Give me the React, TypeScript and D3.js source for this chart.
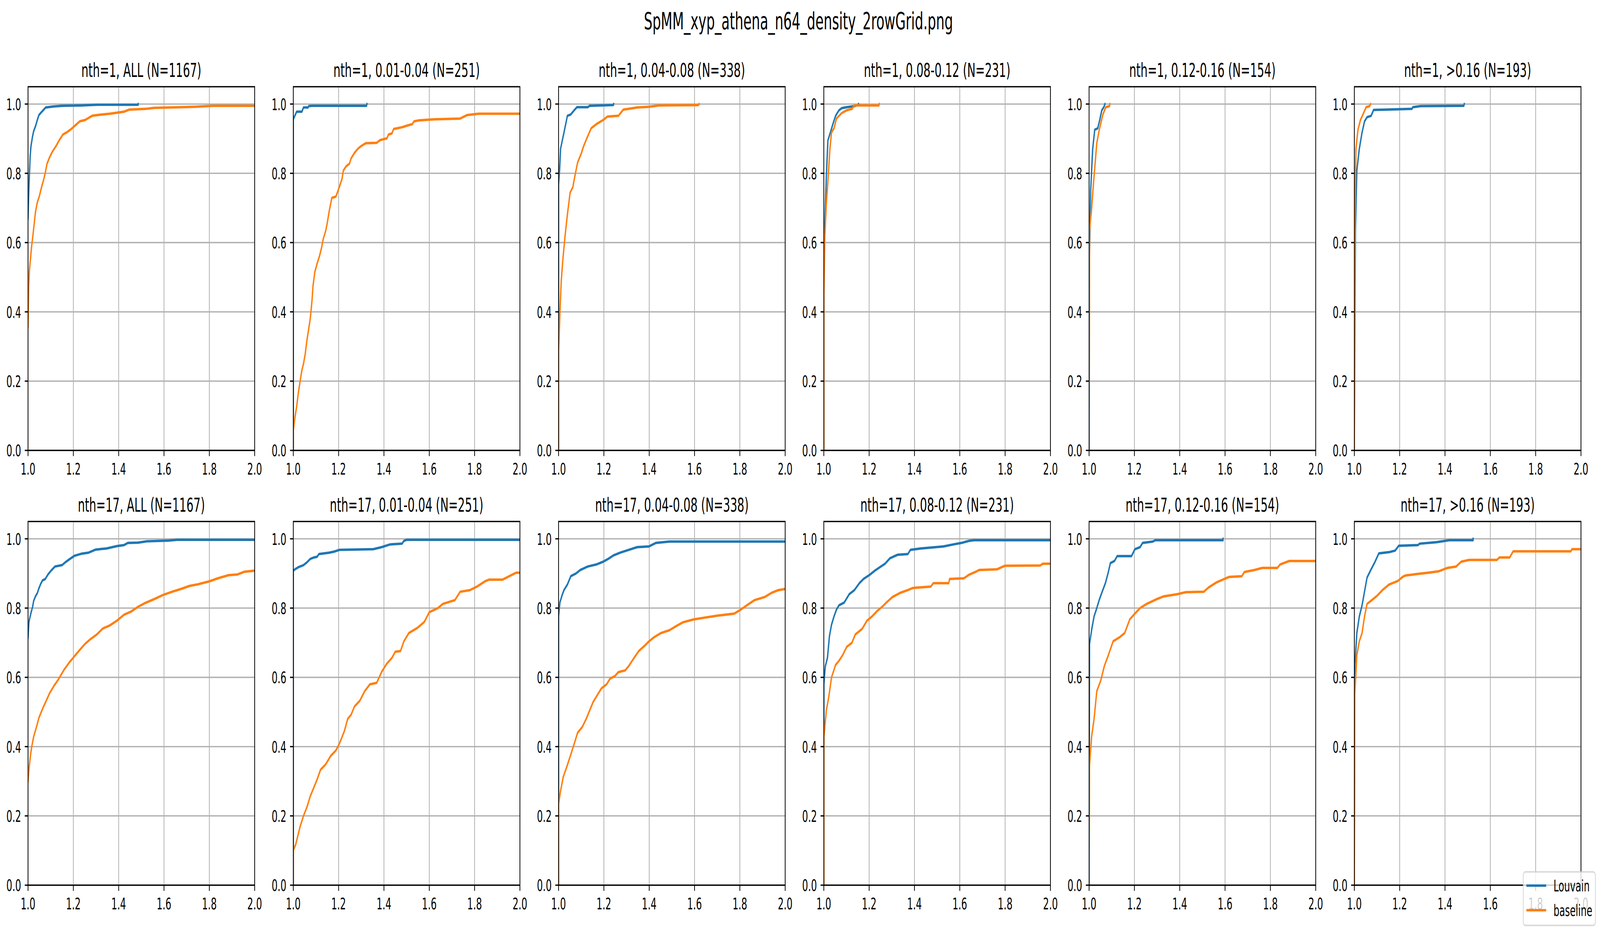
import React from 'react';
import * as d3 from 'd3';

type Pt = [number, number];

const SUPTITLE = 'SpMM_xyp_athena_n64_density_2rowGrid.png';
const threadCounts = [1, 17];
const densityBins = ['ALL', '0.01-0.04', '0.04-0.08', '0.08-0.12', '0.12-0.16', '>0.16'];
const binCounts = [1167, 251, 338, 231, 154, 193];
const seriesNames = ['Louvain', 'baseline'];
const seriesColors = ['#1f77b4', '#ff7f0e'];
const xTicks = [1.0, 1.2, 1.4, 1.6, 1.8, 2.0];
const yTicks = [0.0, 0.2, 0.4, 0.6, 0.8, 1.0];

// nth=1 (cumulative fraction vs. ratio)
const louvainN1All: Pt[] = [[1.0, 0.67], [1.004, 0.76], [1.0094, 0.85], [1.013, 0.878], [1.0195, 0.905], [1.025, 0.922], [1.033, 0.936], [1.041, 0.954], [1.048, 0.968], [1.06, 0.977], [1.078, 0.99], [1.111, 0.993], [1.15, 0.995], [1.236, 0.996], [1.306, 0.998], [1.486, 0.998], [1.486, 1.0]];
const baselineN1All: Pt[] = [[1.0, 0.356], [1.003, 0.473], [1.006, 0.518], [1.011, 0.554], [1.016, 0.59], [1.021, 0.617], [1.027, 0.653], [1.033, 0.689], [1.041, 0.716], [1.05, 0.734], [1.06, 0.761], [1.068, 0.779], [1.076, 0.801], [1.084, 0.828], [1.095, 0.846], [1.107, 0.862], [1.123, 0.878], [1.138, 0.896], [1.154, 0.912], [1.17, 0.918], [1.189, 0.927], [1.213, 0.941], [1.228, 0.95], [1.252, 0.954], [1.283, 0.966], [1.314, 0.969], [1.361, 0.972], [1.424, 0.978], [1.447, 0.984], [1.518, 0.986], [1.557, 0.989], [1.627, 0.99], [1.736, 0.992], [1.815, 0.995], [2.0, 0.995]];

const louvainN1B1: Pt[] = [[1.0, 0.0], [1.0, 0.956], [1.015, 0.978], [1.038, 0.978], [1.045, 0.99], [1.065, 0.99], [1.068, 0.994], [1.083, 0.995], [1.323, 0.995], [1.325, 1.0]];
const baselineN1B1: Pt[] = [[1.0, 0.0], [1.0, 0.056], [1.0075, 0.096], [1.015, 0.127], [1.0225, 0.167], [1.03, 0.199], [1.0375, 0.23], [1.045, 0.25], [1.0526, 0.278], [1.06, 0.317], [1.0676, 0.349], [1.075, 0.381], [1.083, 0.436], [1.087, 0.475], [1.095, 0.515], [1.105, 0.539], [1.116, 0.562], [1.125, 0.586], [1.132, 0.61], [1.143, 0.634], [1.15, 0.657], [1.158, 0.689], [1.17, 0.729], [1.188, 0.733], [1.203, 0.76], [1.215, 0.784], [1.221, 0.808], [1.233, 0.82], [1.248, 0.828], [1.255, 0.843], [1.27, 0.859], [1.285, 0.871], [1.3, 0.879], [1.32, 0.887], [1.368, 0.888], [1.383, 0.896], [1.413, 0.901], [1.42, 0.912], [1.435, 0.915], [1.443, 0.928], [1.48, 0.933], [1.503, 0.938], [1.525, 0.942], [1.533, 0.95], [1.555, 0.953], [1.623, 0.956], [1.736, 0.958], [1.766, 0.968], [1.818, 0.972], [2.0, 0.972]];

const louvainN1B2: Pt[] = [[1.0, 0.0], [1.0, 0.768], [1.0045, 0.808], [1.009, 0.871], [1.0165, 0.895], [1.024, 0.918], [1.0315, 0.942], [1.039, 0.966], [1.054, 0.97], [1.069, 0.982], [1.081, 0.991], [1.129, 0.991], [1.137, 0.995], [1.242, 0.997], [1.243, 1.0]];
const baselineN1B2: Pt[] = [[1.0, 0.0], [1.0, 0.278], [1.006, 0.396], [1.012, 0.491], [1.0195, 0.555], [1.0285, 0.618], [1.039, 0.681], [1.051, 0.744], [1.063, 0.76], [1.072, 0.792], [1.084, 0.831], [1.099, 0.855], [1.111, 0.879], [1.126, 0.903], [1.144, 0.93], [1.167, 0.942], [1.197, 0.954], [1.216, 0.964], [1.264, 0.966], [1.286, 0.984], [1.347, 0.99], [1.399, 0.992], [1.444, 0.996], [1.617, 0.997], [1.62, 1.0]];

const louvainN1B3: Pt[] = [[1.0, 0.0], [1.0, 0.5], [1.0045, 0.65], [1.011, 0.79], [1.018, 0.895], [1.029, 0.918], [1.04, 0.942], [1.052, 0.966], [1.067, 0.982], [1.079, 0.988], [1.101, 0.991], [1.135, 0.994], [1.151, 0.997], [1.153, 1.0]];
const baselineN1B3: Pt[] = [[1.0, 0.0], [1.0, 0.436], [1.0045, 0.618], [1.011, 0.713], [1.018, 0.776], [1.027, 0.871], [1.034, 0.918], [1.045, 0.93], [1.056, 0.958], [1.079, 0.974], [1.101, 0.982], [1.124, 0.986], [1.135, 0.996], [1.243, 0.996], [1.245, 1.0]];

const louvainN1B4: Pt[] = [[1.0, 0.0], [1.002, 0.555], [1.007, 0.752], [1.016, 0.871], [1.025, 0.926], [1.038, 0.93], [1.047, 0.954], [1.056, 0.982], [1.065, 0.991], [1.07, 1.0]];
const baselineN1B4: Pt[] = [[1.0, 0.0], [1.002, 0.634], [1.011, 0.697], [1.02, 0.776], [1.034, 0.887], [1.045, 0.926], [1.061, 0.97], [1.074, 0.991], [1.09, 0.994], [1.092, 1.0]];

const louvainN1B5: Pt[] = [[1.0, 0.0], [1.0045, 0.634], [1.011, 0.808], [1.022, 0.871], [1.034, 0.918], [1.045, 0.95], [1.056, 0.962], [1.074, 0.966], [1.085, 0.983], [1.254, 0.986], [1.258, 0.991], [1.292, 0.994], [1.483, 0.995], [1.485, 1.0]];
const baselineN1B5: Pt[] = [[1.0, 0.0], [1.002, 0.673], [1.007, 0.871], [1.016, 0.926], [1.027, 0.954], [1.038, 0.97], [1.052, 0.991], [1.067, 0.994], [1.072, 1.0]];

// nth=17
const louvainN17All: Pt[] = [[1.0, 0.715], [1.004, 0.759], [1.008, 0.772], [1.013, 0.786], [1.02, 0.803], [1.025, 0.821], [1.033, 0.834], [1.041, 0.843], [1.048, 0.857], [1.056, 0.87], [1.064, 0.88], [1.076, 0.884], [1.088, 0.897], [1.103, 0.909], [1.119, 0.92], [1.15, 0.924], [1.166, 0.933], [1.185, 0.942], [1.205, 0.951], [1.236, 0.957], [1.267, 0.96], [1.299, 0.969], [1.346, 0.972], [1.393, 0.979], [1.424, 0.982], [1.44, 0.988], [1.486, 0.989], [1.525, 0.993], [1.619, 0.995], [1.658, 0.997], [2.0, 0.997]];
const baselineN17All: Pt[] = [[1.0, 0.3], [1.005, 0.34], [1.011, 0.376], [1.017, 0.402], [1.025, 0.429], [1.037, 0.456], [1.048, 0.483], [1.064, 0.509], [1.08, 0.532], [1.095, 0.554], [1.115, 0.576], [1.134, 0.594], [1.158, 0.621], [1.182, 0.643], [1.205, 0.661], [1.228, 0.679], [1.252, 0.697], [1.275, 0.71], [1.302, 0.723], [1.33, 0.741], [1.361, 0.75], [1.393, 0.764], [1.424, 0.781], [1.455, 0.79], [1.486, 0.804], [1.518, 0.815], [1.557, 0.826], [1.596, 0.838], [1.635, 0.847], [1.674, 0.855], [1.713, 0.864], [1.752, 0.869], [1.799, 0.877], [1.838, 0.886], [1.885, 0.895], [1.924, 0.897], [1.955, 0.905], [2.0, 0.908]];

const louvainN17B1: Pt[] = [[1.0, 0.0], [1.0, 0.908], [1.0075, 0.912], [1.0225, 0.918], [1.045, 0.924], [1.06, 0.932], [1.075, 0.942], [1.09, 0.946], [1.105, 0.948], [1.113, 0.956], [1.158, 0.96], [1.18, 0.963], [1.203, 0.968], [1.353, 0.97], [1.39, 0.976], [1.428, 0.984], [1.48, 0.986], [1.488, 0.994], [1.5, 0.997], [2.0, 0.997]];
const baselineN17B1: Pt[] = [[1.0, 0.0], [1.0, 0.1], [1.0105, 0.117], [1.0195, 0.141], [1.03, 0.169], [1.045, 0.2], [1.06, 0.225], [1.075, 0.257], [1.09, 0.281], [1.105, 0.305], [1.12, 0.333], [1.143, 0.349], [1.165, 0.373], [1.188, 0.389], [1.203, 0.408], [1.225, 0.444], [1.24, 0.48], [1.255, 0.492], [1.27, 0.516], [1.293, 0.532], [1.315, 0.56], [1.338, 0.58], [1.368, 0.584], [1.39, 0.616], [1.413, 0.64], [1.435, 0.656], [1.45, 0.674], [1.473, 0.676], [1.488, 0.704], [1.51, 0.728], [1.548, 0.743], [1.578, 0.76], [1.6, 0.788], [1.638, 0.8], [1.66, 0.812], [1.713, 0.823], [1.736, 0.847], [1.78, 0.852], [1.81, 0.862], [1.848, 0.878], [1.863, 0.882], [1.923, 0.882], [1.953, 0.892], [1.983, 0.902], [2.0, 0.902]];

const louvainN17B2: Pt[] = [[1.0, 0.0], [1.0, 0.776], [1.006, 0.816], [1.015, 0.836], [1.024, 0.852], [1.039, 0.868], [1.054, 0.892], [1.077, 0.9], [1.096, 0.91], [1.129, 0.92], [1.167, 0.926], [1.197, 0.934], [1.219, 0.942], [1.242, 0.952], [1.272, 0.96], [1.309, 0.968], [1.347, 0.976], [1.399, 0.978], [1.429, 0.988], [1.489, 0.992], [2.0, 0.992]];
const baselineN17B2: Pt[] = [[1.0, 0.0], [1.0, 0.233], [1.009, 0.273], [1.021, 0.313], [1.036, 0.341], [1.054, 0.377], [1.069, 0.408], [1.084, 0.44], [1.104, 0.456], [1.122, 0.48], [1.137, 0.504], [1.152, 0.528], [1.174, 0.552], [1.189, 0.568], [1.212, 0.58], [1.227, 0.596], [1.249, 0.604], [1.264, 0.615], [1.294, 0.62], [1.309, 0.632], [1.332, 0.655], [1.354, 0.676], [1.381, 0.692], [1.399, 0.704], [1.422, 0.716], [1.452, 0.728], [1.489, 0.736], [1.519, 0.748], [1.549, 0.759], [1.595, 0.767], [1.64, 0.772], [1.7, 0.778], [1.775, 0.784], [1.805, 0.796], [1.835, 0.81], [1.865, 0.823], [1.91, 0.832], [1.94, 0.844], [1.97, 0.852], [2.0, 0.855]];

const louvainN17B3: Pt[] = [[1.0, 0.0], [1.0, 0.58], [1.0067, 0.632], [1.016, 0.656], [1.025, 0.72], [1.034, 0.752], [1.045, 0.776], [1.056, 0.796], [1.067, 0.808], [1.09, 0.816], [1.112, 0.84], [1.135, 0.852], [1.157, 0.872], [1.175, 0.884], [1.202, 0.896], [1.225, 0.908], [1.247, 0.918], [1.27, 0.928], [1.292, 0.944], [1.326, 0.954], [1.371, 0.956], [1.382, 0.968], [1.427, 0.972], [1.528, 0.978], [1.573, 0.984], [1.607, 0.988], [1.64, 0.994], [1.663, 0.996], [2.0, 0.996]];
const baselineN17B3: Pt[] = [[1.0, 0.0], [1.0, 0.424], [1.011, 0.504], [1.022, 0.544], [1.034, 0.6], [1.052, 0.636], [1.067, 0.648], [1.083, 0.664], [1.101, 0.688], [1.124, 0.7], [1.139, 0.724], [1.169, 0.74], [1.191, 0.764], [1.213, 0.776], [1.236, 0.792], [1.258, 0.804], [1.276, 0.816], [1.303, 0.832], [1.337, 0.844], [1.371, 0.852], [1.393, 0.858], [1.472, 0.862], [1.483, 0.872], [1.551, 0.872], [1.555, 0.884], [1.618, 0.886], [1.64, 0.896], [1.674, 0.906], [1.685, 0.91], [1.764, 0.912], [1.798, 0.922], [1.955, 0.923], [1.966, 0.928], [2.0, 0.928]];

const louvainN17B4: Pt[] = [[1.0, 0.0], [1.002, 0.696], [1.011, 0.736], [1.022, 0.776], [1.034, 0.8], [1.045, 0.824], [1.056, 0.844], [1.072, 0.872], [1.085, 0.904], [1.094, 0.93], [1.112, 0.936], [1.124, 0.95], [1.187, 0.95], [1.202, 0.97], [1.225, 0.976], [1.236, 0.988], [1.281, 0.992], [1.292, 0.996], [1.591, 0.996], [1.591, 1.0]];
const baselineN17B4: Pt[] = [[1.0, 0.0], [1.002, 0.345], [1.011, 0.428], [1.022, 0.48], [1.034, 0.56], [1.052, 0.592], [1.067, 0.632], [1.085, 0.664], [1.106, 0.704], [1.135, 0.716], [1.157, 0.728], [1.18, 0.768], [1.202, 0.784], [1.225, 0.8], [1.254, 0.812], [1.299, 0.826], [1.33, 0.834], [1.389, 0.84], [1.427, 0.846], [1.506, 0.847], [1.528, 0.86], [1.562, 0.874], [1.596, 0.884], [1.618, 0.89], [1.674, 0.892], [1.685, 0.904], [1.73, 0.91], [1.764, 0.916], [1.831, 0.916], [1.843, 0.926], [1.883, 0.936], [2.0, 0.936]];

const louvainN17B5: Pt[] = [[1.0, 0.0], [1.002, 0.632], [1.011, 0.728], [1.022, 0.776], [1.034, 0.808], [1.045, 0.848], [1.056, 0.888], [1.074, 0.912], [1.09, 0.932], [1.108, 0.958], [1.157, 0.962], [1.18, 0.966], [1.196, 0.98], [1.281, 0.982], [1.288, 0.986], [1.36, 0.99], [1.42, 0.996], [1.524, 0.996], [1.524, 1.0]];
const baselineN17B5: Pt[] = [[1.0, 0.0], [1.002, 0.552], [1.011, 0.664], [1.022, 0.704], [1.034, 0.728], [1.045, 0.776], [1.056, 0.812], [1.079, 0.824], [1.101, 0.836], [1.124, 0.852], [1.153, 0.868], [1.191, 0.878], [1.213, 0.89], [1.225, 0.894], [1.27, 0.898], [1.326, 0.902], [1.371, 0.906], [1.411, 0.916], [1.449, 0.92], [1.472, 0.934], [1.506, 0.939], [1.629, 0.939], [1.64, 0.946], [1.685, 0.946], [1.701, 0.964], [1.955, 0.964], [1.96, 0.97], [2.0, 0.97]];

const panelSeries: Pt[][][][] = [
  [
    [louvainN1All, baselineN1All],
    [louvainN1B1, baselineN1B1],
    [louvainN1B2, baselineN1B2],
    [louvainN1B3, baselineN1B3],
    [louvainN1B4, baselineN1B4],
    [louvainN1B5, baselineN1B5],
  ],
  [
    [louvainN17All, baselineN17All],
    [louvainN17B1, baselineN17B1],
    [louvainN17B2, baselineN17B2],
    [louvainN17B3, baselineN17B3],
    [louvainN17B4, baselineN17B4],
    [louvainN17B5, baselineN17B5],
  ],
];

// layout, in figure pixels (viewBox units)
const W = 7194;
const H = 2391;
const AX_LEFT = 126;
const AX_STEP = 1192.7;
const AX_W = 1019;
const AX_H = 931;
const ROW_TOP = [222, 1335];
const LW = 3.33; // 0.8pt at 300dpi
const TICK = 14.6;
const FONT = 'DejaVu Sans, Liberation Sans, sans-serif';

const Panel: React.FC<{ row: number; col: number }> = ({ row, col }) => {
  const left = AX_LEFT + col * AX_STEP;
  const top = ROW_TOP[row];
  const x = d3.scaleLinear().domain([1, 2]).range([0, AX_W]);
  const y = d3.scaleLinear().domain([0, 1.05]).range([AX_H, 0]);
  const line = d3
    .line<Pt>()
    .x(d => x(d[0]))
    .y(d => y(d[1]));
  const clipId = `clip-${row}-${col}`;
  const title = `nth=${threadCounts[row]}, ${densityBins[col]} (N=${binCounts[col]})`;

  return (
    <g transform={`translate(${left},${top})`}>
      <clipPath id={clipId}>
        <rect x={0} y={0} width={AX_W} height={AX_H} />
      </clipPath>
      {/* grid */}
      {xTicks.map(t => (
        <line key={`gx${t}`} x1={x(t)} x2={x(t)} y1={0} y2={AX_H} stroke="#b0b0b0" strokeWidth={LW} />
      ))}
      {yTicks.map(t => (
        <line key={`gy${t}`} x1={0} x2={AX_W} y1={y(t)} y2={y(t)} stroke="#b0b0b0" strokeWidth={LW} />
      ))}
      {/* curves */}
      <g clipPath={`url(#${clipId})`}>
        {panelSeries[row][col].map((pts, i) => (
          <path
            key={i}
            d={line(pts) || ''}
            fill="none"
            stroke={seriesColors[i]}
            strokeWidth={6.25}
            strokeLinejoin="round"
            strokeLinecap="square"
          />
        ))}
      </g>
      {/* spines */}
      <rect x={0} y={0} width={AX_W} height={AX_H} fill="none" stroke="#000" strokeWidth={LW} />
      {/* x ticks */}
      {xTicks.map(t => (
        <g key={`tx${t}`} transform={`translate(${x(t)},${AX_H})`}>
          <line y1={0} y2={TICK} stroke="#000" strokeWidth={LW} />
          <text y={62} textAnchor="middle" fontSize={41.67} fontFamily={FONT} fill="#000">
            {t.toFixed(1)}
          </text>
        </g>
      ))}
      {/* y ticks */}
      {yTicks.map(t => (
        <g key={`ty${t}`} transform={`translate(0,${y(t)})`}>
          <line x1={-TICK} x2={0} stroke="#000" strokeWidth={LW} />
          <text x={-31} y={15.2} textAnchor="end" fontSize={41.67} fontFamily={FONT} fill="#000">
            {t.toFixed(1)}
          </text>
        </g>
      ))}
      <text x={AX_W / 2} y={-25} textAnchor="middle" fontSize={50} fontFamily={FONT} fill="#000">
        {title}
      </text>
    </g>
  );
};

const Legend: React.FC = () => {
  const bx = 6849;
  const by = 2232;
  const rows = [2267, 2330];
  return (
    <g>
      <rect
        x={bx}
        y={by}
        width={324}
        height={137}
        rx={9}
        ry={9}
        fill="#ffffff"
        fillOpacity={0.8}
        stroke="#cccccc"
        strokeOpacity={0.8}
        strokeWidth={LW}
      />
      {seriesNames.map((name, i) => (
        <g key={name}>
          <line x1={6863} x2={6952} y1={rows[i]} y2={rows[i]} stroke={seriesColors[i]} strokeWidth={6.25} />
          <text x={6985} y={rows[i] + 15} fontSize={41.67} fontFamily={FONT} fill="#000">
            {name}
          </text>
        </g>
      ))}
    </g>
  );
};

export default function App() {
  // the figure is laid out in 7194x2391 units and stretched over the whole window
  return (
    <svg
      viewBox={`0 0 ${W} ${H}`}
      preserveAspectRatio="none"
      style={{ position: 'fixed', left: 0, top: 0, width: '100vw', height: '100vh', display: 'block', background: '#fff' }}
    >
      <rect width={W} height={H} fill="#fff" />
      <text x={3590} y={75} textAnchor="middle" fontSize={60} fontFamily={FONT} fill="#000">
        {SUPTITLE}
      </text>
      {threadCounts.map((_, row) =>
        densityBins.map((_, col) => <Panel key={`${row}-${col}`} row={row} col={col} />)
      )}
      <Legend />
    </svg>
  );
}
